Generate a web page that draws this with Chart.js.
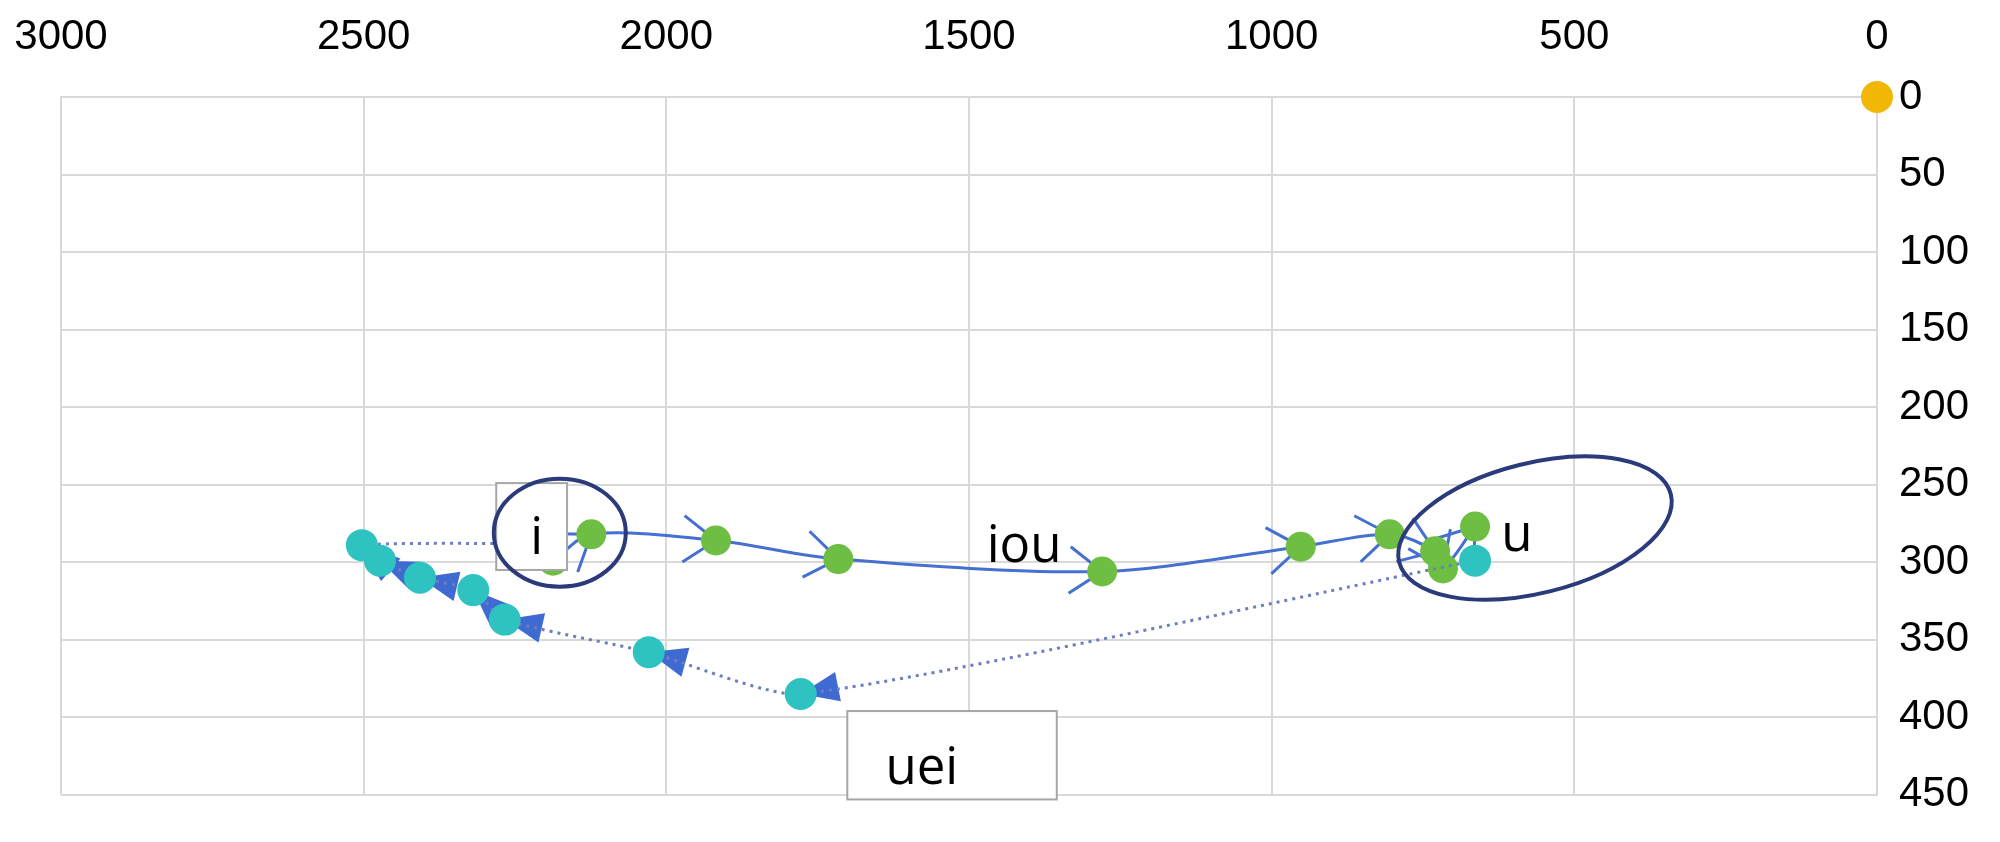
<!DOCTYPE html>
<html>
<head>
<meta charset="utf-8">
<script src="https://cdn.jsdelivr.net/npm/chart.js@4.4.1/dist/chart.umd.min.js"></script>
<style>
html, body { margin: 0; padding: 0; background: #fff; }
#wrap { width: 2000px; height: 842px; }
</style>
</head>
<body>
<div id="wrap"><canvas id="formantes" width="2000" height="842"></canvas></div>
<script>
// trayectoria "iou" (F2 en x, F1 en y)
const iouF2 = [2187, 2124, 1918, 1716, 1280, 952, 805, 730, 717, 664];
const iouF1 = [299, 282, 286, 298, 306, 290, 282, 293, 304, 277];
// trayectoria "uei"
const ueiF2 = [664, 1778, 2029, 2267, 2319, 2407, 2473, 2503, 2200];
const ueiF1 = [299, 385, 358, 337, 318, 310, 299, 289, 288];
// punto de origen
const origenF2 = [0];
const origenF1 = [0];
// marcas de los ejes
const ticksF2 = [0, 500, 1000, 1500, 2000, 2500, 3000];
const ticksF1 = [0, 50, 100, 150, 200, 250, 300, 350, 400, 450];

// cajas, textos y elipses dibujados encima (en unidades de datos)
const cajas = [
    { x1: 2281, x2: 2164, y1: 249, y2: 305 },
    { x1: 1701, x2: 1355, y1: 396, y2: 453 }
];
const textos = [
    { texto: 'i', x: 2214, y: 295 },
    { texto: 'iou', x: 1409, y: 300 },
    { texto: 'u', x: 595, y: 293 },
    { texto: 'uei', x: 1578, y: 443 }
];
const elipses = [
    { x: 2176, y: 281, rx: 66, ry: 54, rot: 0 },
    { x: 565, y: 278, rx: 140, ry: 65, rot: -14 }
];

const gris = '#d9d9d9';

function puntos(xs, ys) {
    return xs.map((x, i) => ({ x: x, y: ys[i] }));
}

// puntas de flecha al final de cada tramo
const flechas = {
    id: 'flechas',
    beforeDatasetDraw(chart, args) {
        const ds = chart.data.datasets[args.index];
        if (!ds.flecha) return;
        const pts = args.meta.data;
        const ctx = chart.ctx;
        ctx.save();
        for (let i = 1; i < pts.length; i++) {
            const p = pts[i];
            const q = pts[i - 1];
            const ang = Math.atan2(p.y - q.y, p.x - q.x);
            if (ds.flecha === 'abierta') {
                const largo = 40, ab = 0.62;
                ctx.strokeStyle = ds.borderColor;
                ctx.lineWidth = 3;
                ctx.beginPath();
                ctx.moveTo(p.x - largo * Math.cos(ang - ab), p.y - largo * Math.sin(ang - ab));
                ctx.lineTo(p.x, p.y);
                ctx.lineTo(p.x - largo * Math.cos(ang + ab), p.y - largo * Math.sin(ang + ab));
                ctx.stroke();
            } else {
                const largo = 38, ancho = 15;
                const bx = p.x - largo * Math.cos(ang), by = p.y - largo * Math.sin(ang);
                ctx.fillStyle = '#3f6ad2';
                ctx.beginPath();
                ctx.moveTo(p.x, p.y);
                ctx.lineTo(bx + ancho * Math.sin(ang), by - ancho * Math.cos(ang));
                ctx.lineTo(bx - ancho * Math.sin(ang), by + ancho * Math.cos(ang));
                ctx.closePath();
                ctx.fill();
            }
        }
        ctx.restore();
    }
};

const anotaciones = {
    id: 'anotaciones',
    afterDraw(chart) {
        const ctx = chart.ctx;
        const sx = chart.scales.x, sy = chart.scales.y;
        ctx.save();
        cajas.forEach(c => {
            const x1 = sx.getPixelForValue(c.x1), x2 = sx.getPixelForValue(c.x2);
            const y1 = sy.getPixelForValue(c.y1), y2 = sy.getPixelForValue(c.y2);
            ctx.fillStyle = '#fff';
            ctx.fillRect(x1, y1, x2 - x1, y2 - y1);
            ctx.strokeStyle = '#a6a6a6';
            ctx.lineWidth = 2;
            ctx.strokeRect(x1, y1, x2 - x1, y2 - y1);
        });
        ctx.fillStyle = '#000';
        ctx.font = "51px 'Open Sans'";
        ctx.textAlign = 'center';
        ctx.textBaseline = 'alphabetic';
        textos.forEach(t => {
            ctx.fillText(t.texto, sx.getPixelForValue(t.x), sy.getPixelForValue(t.y));
        });
        ctx.strokeStyle = '#2b3a7a';
        ctx.lineWidth = 4;
        elipses.forEach(e => {
            ctx.beginPath();
            ctx.ellipse(sx.getPixelForValue(e.x), sy.getPixelForValue(e.y), e.rx, e.ry, e.rot * Math.PI / 180, 0, Math.PI * 2);
            ctx.stroke();
        });
        ctx.restore();
    }
};

const fuenteEje = { family: "'Liberation Sans', Arial, sans-serif", size: 42 };

new Chart(document.getElementById('formantes'), {
    type: 'scatter',
    data: {
        datasets: [{
            label: 'origen',
            data: puntos(origenF2, origenF1),
            pointRadius: 16,
            pointBackgroundColor: '#f2b705',
            pointBorderWidth: 0,
            clip: false,
            order: 0
        }, {
            label: 'uei',
            data: puntos(ueiF2, ueiF1),
            showLine: true,
            tension: 0.2,
            borderColor: '#6d7ec0',
            borderWidth: 3,
            borderDash: [3, 5],
            pointRadius: 16,
            pointBackgroundColor: '#2ec2c0',
            pointBorderWidth: 0,
            flecha: 'llena',
            clip: false,
            order: 1
        }, {
            label: 'iou',
            data: puntos(iouF2, iouF1),
            showLine: true,
            tension: 0.3,
            borderColor: '#4670cf',
            borderWidth: 3,
            pointRadius: 15,
            pointBackgroundColor: '#6fbe44',
            pointBorderWidth: 0,
            flecha: 'abierta',
            clip: false,
            order: 2
        }]
    },
    options: {
        responsive: false,
        animation: false,
        devicePixelRatio: 1,
        layout: { padding: { left: 61, right: 0, top: 0, bottom: 44 } },
        plugins: {
            legend: { display: false },
            tooltip: { enabled: false }
        },
        scales: {
            x: {
                type: 'linear',
                position: 'top',
                reverse: true,
                min: 0,
                max: 3000,
                afterBuildTicks: s => { s.ticks = ticksF2.map(v => ({ value: v })); },
                afterFit: s => { s.height = 97; },
                ticks: { font: fuenteEje, color: '#000', padding: 34, maxRotation: 0, callback: v => String(v) },
                grid: { color: gris, lineWidth: 2, drawTicks: false },
                border: { color: gris, width: 2 }
            },
            y: {
                type: 'linear',
                position: 'right',
                reverse: true,
                min: 0,
                max: 450,
                afterBuildTicks: s => { s.ticks = ticksF1.map(v => ({ value: v })); },
                afterFit: s => { s.width = 123; },
                ticks: { font: fuenteEje, color: '#000', padding: 22, callback: v => String(v) },
                grid: { color: gris, lineWidth: 2, drawTicks: false },
                border: { color: gris, width: 2 }
            }
        }
    },
    plugins: [flechas, anotaciones]
});
</script>
</body>
</html>
